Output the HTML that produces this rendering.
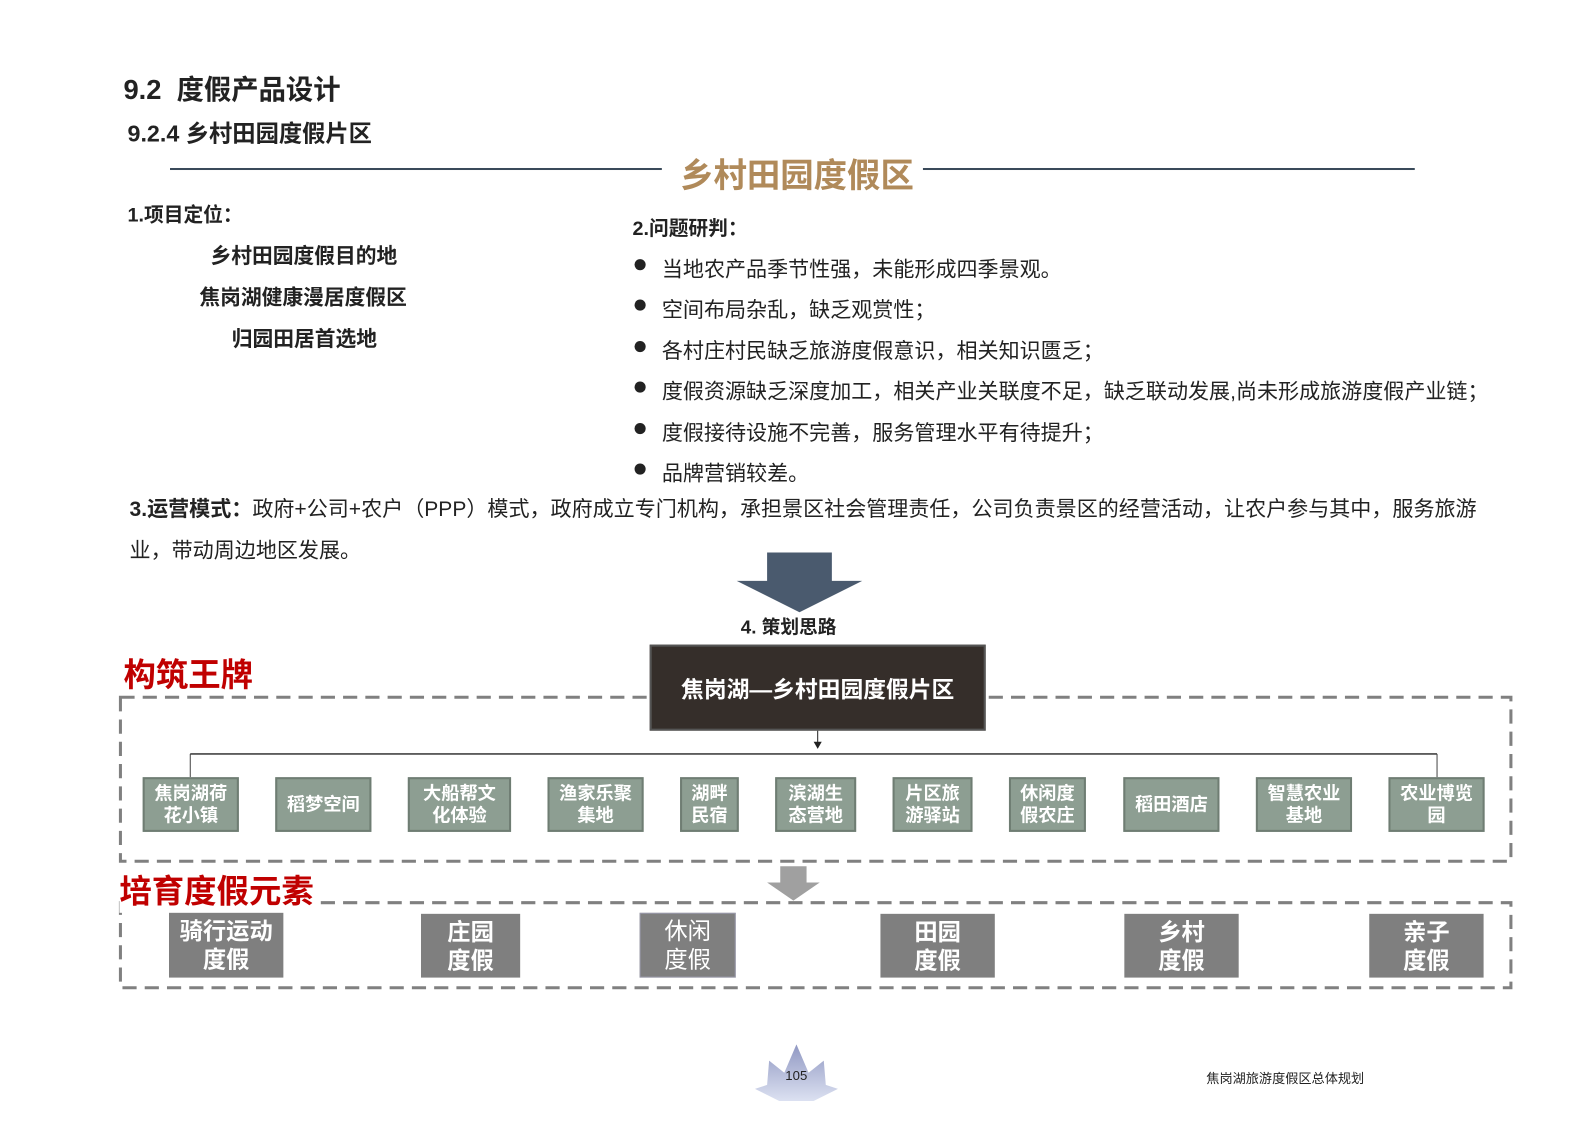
<!DOCTYPE html>
<html><head><meta charset="utf-8"><style>
body{margin:0;width:1587px;height:1122px;background:#fff;position:relative;overflow:hidden;font-family:"Liberation Sans","Noto Sans CJK SC",sans-serif;color:#222}
#w{position:absolute;left:0;top:0;width:1570px;height:1110px;transform:scale(1.012);transform-origin:0 0}
.a{position:absolute;white-space:nowrap}
.b{font-weight:bold}
.g{position:absolute;background:#8d9e92;border:2px solid #6f7d73;color:#fff;font-weight:bold;font-size:18px;line-height:22px;display:flex;align-items:center;justify-content:center;text-align:center;box-sizing:border-box}
.d{position:absolute;background:#7f7f7f;color:#fff;font-weight:bold;font-size:23px;line-height:28px;display:flex;align-items:center;justify-content:center;text-align:center;box-sizing:border-box}
.li{font-size:20.8px}
.dot{position:absolute;width:11px;height:11px;border-radius:50%;background:#222}
</style></head><body><div id="w">
<div class="a b" style="left:122px;top:67px;font-size:27px">9.2&nbsp; 度假产品设计</div>
<div class="a b" style="left:126px;top:113px;font-size:23px">9.2.4 乡村田园度假片区</div>
<div class="a" style="left:168px;top:166px;width:486px;height:2px;background:#3a4a5a"></div>
<div class="a" style="left:912px;top:166px;width:486px;height:2px;background:#3a4a5a"></div>
<div class="a b" style="left:672px;top:147px;font-size:33px;color:#b08a5a">乡村田园度假区</div>
<div class="a b" style="left:126px;top:196px;font-size:19.5px">1.项目定位：</div>
<div class="a b" style="left:208px;top:236px;font-size:20.5px">乡村田园度假目的地</div>
<div class="a b" style="left:197px;top:277px;font-size:20.5px">焦岗湖健康漫居度假区</div>
<div class="a b" style="left:229px;top:318px;font-size:20.5px">归园田居首选地</div>
<div class="a b" style="left:625px;top:209px;font-size:19.5px">2.问题研判：</div>
<div class="dot" style="left:627px;top:256px"></div><div class="a li" style="left:654px;top:249px">当地农产品季节性强，未能形成四季景观。</div>
<div class="dot" style="left:627px;top:296px"></div><div class="a li" style="left:654px;top:289px">空间布局杂乱，缺乏观赏性；</div>
<div class="dot" style="left:627px;top:337px"></div><div class="a li" style="left:654px;top:330px">各村庄村民缺乏旅游度假意识，相关知识匮乏；</div>
<div class="dot" style="left:627px;top:377px"></div><div class="a li" style="left:654px;top:370px">度假资源缺乏深度加工，相关产业关联度不足，缺乏联动发展,尚未形成旅游度假产业链；</div>
<div class="dot" style="left:627px;top:418px"></div><div class="a li" style="left:654px;top:411px">度假接待设施不完善，服务管理水平有待提升；</div>
<div class="dot" style="left:627px;top:458px"></div><div class="a li" style="left:654px;top:451px">品牌营销较差。</div>
<div class="a li" style="left:128px;top:486px"><b>3.运营模式：</b>政府+公司+农户（PPP）模式，政府成立专门机构，承担景区社会管理责任，公司负责景区的经营活动，让农户参与其中，服务旅游</div>
<div class="a li" style="left:128px;top:527px">业，带动周边地区发展。</div>
<svg class="a" style="left:0;top:0" width="1587" height="1122">
<polygon points="758,546 822,546 822,574 852,574 790,605 728,574 758,574" fill="#4a5a6e"/>
<rect x="119" y="689" width="1374" height="162" fill="none" stroke="#808080" stroke-width="3" stroke-dasharray="14,8"/>
<rect x="119" y="892" width="1374" height="84" fill="none" stroke="#808080" stroke-width="3" stroke-dasharray="14,8"/>
<polygon points="771,856 797,856 797,872 810,872 784,890 758,872 771,872" fill="#a0a0a0"/>
<line x1="808" y1="722" x2="808" y2="735" stroke="#222"/><polygon points="804,733 812,733 808,740" fill="#222"/>
<line x1="188" y1="745" x2="1420" y2="745" stroke="#444" stroke-width="1.5"/>
<line x1="188" y1="745" x2="188" y2="768" stroke="#444"/><line x1="1420" y1="745" x2="1420" y2="768" stroke="#444"/>
</svg>
<div class="a b" style="left:732px;top:606px;font-size:18.5px">4. 策划思路</div>
<div class="a b" style="left:122px;top:642px;font-size:32px;color:#c00000">构筑王牌</div>
<div class="a b" style="left:118px;top:856px;font-size:32px;color:#c00000;background:#fff">培育度假元素</div>
<div class="a b" style="left:642px;top:637px;width:332px;height:85px;background:#352e2a;border:2px solid #555;box-sizing:border-box;color:#fff;font-size:22.5px;display:flex;align-items:center;justify-content:center">焦岗湖—乡村田园度假片区</div>
<div class="g" style="left:141px;top:768px;width:95px;height:54px">焦岗湖荷<br>花小镇</div>
<div class="g" style="left:272px;top:768px;width:95px;height:54px">稻梦空间</div>
<div class="g" style="left:403px;top:768px;width:102px;height:54px">大船帮文<br>化体验</div>
<div class="g" style="left:541px;top:768px;width:95px;height:54px">渔家乐聚<br>集地</div>
<div class="g" style="left:672px;top:768px;width:58px;height:54px">湖畔<br>民宿</div>
<div class="g" style="left:766px;top:768px;width:80px;height:54px">滨湖生<br>态营地</div>
<div class="g" style="left:882px;top:768px;width:79px;height:54px">片区旅<br>游驿站</div>
<div class="g" style="left:997px;top:768px;width:76px;height:54px">休闲度<br>假农庄</div>
<div class="g" style="left:1110px;top:768px;width:95px;height:54px">稻田酒店</div>
<div class="g" style="left:1241px;top:768px;width:95px;height:54px">智慧农业<br>基地</div>
<div class="g" style="left:1372px;top:768px;width:95px;height:54px">农业博览<br>园</div>
<div class="d" style="left:167px;top:902px;width:113px;height:64px">骑行运动<br>度假</div>
<div class="d" style="left:416px;top:903px;width:98px;height:63px">庄园<br>度假</div>
<div class="d" style="left:632px;top:902px;width:95px;height:64px;font-weight:normal;border:1px solid #99a">休闲<br>度假</div>
<div class="d" style="left:870px;top:903px;width:113px;height:63px">田园<br>度假</div>
<div class="d" style="left:1111px;top:903px;width:113px;height:63px">乡村<br>度假</div>
<div class="d" style="left:1353px;top:903px;width:113px;height:63px">亲子<br>度假</div>
<svg class="a" style="left:744px;top:1030px" width="86" height="60"><defs><linearGradient id="lg" x1="0" y1="0" x2="0" y2="1"><stop offset="0" stop-color="#7d86b8"/><stop offset="1" stop-color="#d6dcef"/></linearGradient></defs><path d="M43,2 L55,30 L70,18 L72,42 L84,46 L60,58 L26,58 L2,46 L14,42 L16,18 L31,30 Z" fill="url(#lg)" opacity="0.85"/></svg>
<div class="a" style="left:776px;top:1055px;font-size:13px">105</div>
<div class="a" style="left:1192px;top:1055px;font-size:13px">焦岗湖旅游度假区总体规划</div>
</div></body></html>
